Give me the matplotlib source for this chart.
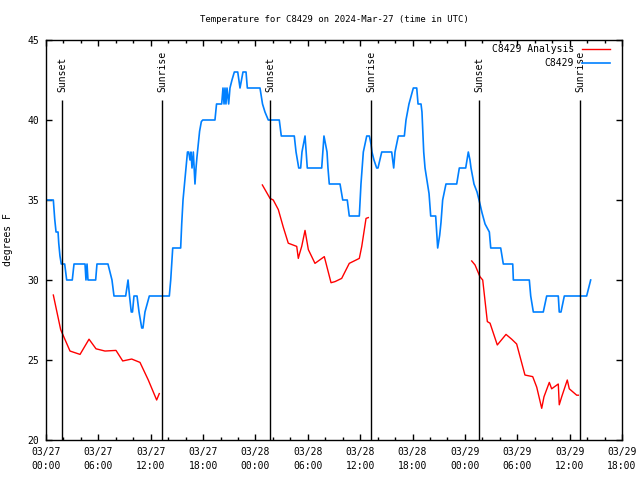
import numpy as np
import matplotlib
matplotlib.use("Agg")
import matplotlib.pyplot as plt

# hours since 03/27 00:00 UTC, temperature in degrees F
obs_hours = [0.11, 0.84, 1.00, 1.15, 1.38, 1.46, 1.60, 1.75, 2.14, 2.37, 3.01, 3.21, 4.47, 4.58, 4.70, 4.81,
             5.69, 5.84, 7.10, 7.33, 7.56, 7.79, 9.13, 9.40, 9.57, 9.77, 9.91, 10.08, 10.43, 10.66, 10.97,
             11.11, 11.34, 11.84, 14.13, 14.29, 14.52, 15.43, 15.55, 15.70, 15.87, 16.04, 16.21, 16.35,
             16.50, 16.61, 16.73, 16.88, 17.07, 17.19, 17.30, 17.47, 17.60, 17.80, 17.96, 19.36, 19.54,
             20.13, 20.28, 20.40, 20.51, 20.62, 20.74, 20.93, 21.08, 21.31, 21.58, 21.97, 22.23, 22.57,
             22.92, 23.07, 24.52, 24.81, 25.09, 25.47, 26.73, 26.96, 28.45, 28.65, 28.96, 29.18, 29.33,
             29.68, 29.94, 31.59, 31.85, 32.20, 32.31, 32.46, 33.69, 34.00, 34.52, 34.75, 35.90, 36.09,
             36.36, 36.75, 37.05, 37.24, 37.35, 37.58, 37.89, 38.04, 38.47, 39.61, 39.84, 39.99, 40.37,
             41.06, 41.25, 41.59, 42.09, 42.48, 42.63, 42.97, 43.08, 43.18, 43.28, 43.43, 43.89, 44.08,
             44.65, 44.88, 45.11, 45.26, 45.45, 45.83, 47.06, 47.36, 48.09, 48.39, 48.58, 48.70, 49.04,
             49.39, 49.62, 49.96, 50.31, 50.80, 50.96, 52.10, 52.40, 53.48, 53.55, 55.38, 55.54, 55.84,
             56.98, 57.37, 58.70, 58.81, 59.01, 59.39, 61.95, 62.41]
obs_temp = [35, 35, 33.8, 33, 33, 32.3, 31.5, 31, 31, 30, 30, 31, 31, 30, 31, 30,
            30, 31, 31, 30.5, 30, 29, 29, 30, 29, 28, 28, 29, 29, 28, 27,
            27, 28, 29, 29, 30, 32, 32, 33.5, 35, 36, 37, 38, 38,
            37.5, 38, 37, 38, 36, 37, 37.7, 38.6, 39.3, 39.9, 40, 40, 41,
            41, 42, 41, 42, 41, 42, 41, 42, 42.5, 43, 43, 42, 43,
            43, 42, 42, 41, 40.5, 40, 40, 39, 39, 38, 37, 37, 38,
            39, 37, 37, 39, 38, 37, 36, 36, 35, 35, 34, 34, 36,
            38, 39, 39, 38.5, 38, 37.5, 37, 37, 38, 38, 37, 38, 39,
            39, 40, 41, 42, 42, 41, 41, 40.5, 39.2, 38, 37, 35.4, 34,
            34, 32, 32.8, 33.6, 35, 36, 36, 37, 37, 38, 37.5, 37, 36,
            35.5, 35, 34.2, 33.5, 33, 32, 32, 31, 31, 30, 30, 29, 28,
            28, 29, 29, 28, 28, 29, 29, 30]

# analysis runs, three separate pieces
ana1_hours = [0.84, 1.68, 2.75, 3.90, 4.93, 5.73, 6.76, 8.02, 8.79, 9.82, 10.77, 11.72, 12.68, 12.98]
ana1_temp = [29.06, 26.9, 25.56, 25.35, 26.3, 25.7, 25.56, 25.6, 24.94, 25.06, 24.85, 23.75, 22.5, 22.9]
ana2_hours = [24.79, 25.67, 26.04, 26.62, 27.19, 27.76, 28.73, 28.91, 29.03, 29.30, 29.68, 30.06, 30.82,
              31.89, 32.66, 33.12, 33.88, 34.75, 35.90, 36.18, 36.67, 36.93]
ana2_temp = [35.94, 35.1, 35.0, 34.4, 33.3, 32.3, 32.1, 31.35, 31.6, 32.1, 33.1, 31.9, 31.04,
             31.46, 29.83, 29.9, 30.1, 31.04, 31.35, 32.1, 33.85, 33.9]
ana3_hours = [48.78, 49.16, 49.73, 50.04, 50.57, 50.88, 51.71, 52.71, 53.36, 53.93, 54.88, 55.77, 56.23,
              56.80, 57.06, 57.67, 57.94, 58.70, 58.81, 59.09, 59.73, 59.96, 60.81, 61.0]
ana3_temp = [31.19, 30.94, 30.2, 30.0, 27.4, 27.3, 25.94, 26.6, 26.3, 26.0, 24.06, 23.96, 23.3,
             21.98, 22.7, 23.6, 23.2, 23.5, 22.2, 22.7, 23.75, 23.2, 22.8, 22.8]

sun_hours = [1.83, 13.29, 25.67, 37.24, 49.62, 61.19]
sun_labels = ["Sunset", "Sunrise", "Sunset", "Sunrise", "Sunset", "Sunrise"]

tick_hours = list(range(0, 67, 6))
tick_labels = ["03/27\n00:00", "03/27\n06:00", "03/27\n12:00", "03/27\n18:00",
               "03/28\n00:00", "03/28\n06:00", "03/28\n12:00", "03/28\n18:00",
               "03/29\n00:00", "03/29\n06:00", "03/29\n12:00", "03/29\n18:00"]

plt.rcParams['font.family'] = ['DejaVu Sans Mono']
plt.rcParams['font.size'] = 7

fig = plt.figure(figsize=(6.4, 4.8), dpi=100)
ax = fig.add_axes([46/640, 40/480, 576/640, 400/480])

red = "#ff0000"
blue = "#0080ff"

ax.plot(ana1_hours, ana1_temp, color=red, lw=1.0, label="C8429 Analysis")
ax.plot(ana2_hours, ana2_temp, color=red, lw=1.0)
ax.plot(ana3_hours, ana3_temp, color=red, lw=1.0)
ax.plot(obs_hours, obs_temp, color=blue, lw=1.2, label="C8429")

# sunrise / sunset markers
ax.vlines(sun_hours, 20, 41.25, color="black", lw=1.0)
for h, lab in zip(sun_hours, sun_labels):
    ax.text(h, 41.75, lab, rotation=90, ha="center", va="bottom", fontsize=7)

ax.set_xlim(0, 66)
ax.set_ylim(20, 45)
ax.set_xticks(tick_hours)
ax.set_xticklabels(tick_labels, linespacing=1.45)
ax.set_xticks(np.arange(0, 67, 2), minor=True)
ax.set_yticks([20, 25, 30, 35, 40, 45])
ax.tick_params(which="both", direction="in", top=True, right=True, width=1.0)
ax.tick_params(which="major", length=4.5)
ax.tick_params(axis="x", which="major", pad=5)
ax.tick_params(axis="y", which="major", pad=5)
ax.tick_params(which="minor", length=2.5)
for s in ax.spines.values():
    s.set_linewidth(1.0)

ax.set_ylabel("degrees F", labelpad=10)
fig.text(334/640, 1 - 20/480, "Temperature for C8429 on 2024-Mar-27 (time in UTC)",
         ha="center", va="center", fontsize=6.5)

ax.legend(loc="upper right", bbox_to_anchor=(0.979, 0.99), frameon=False, markerfirst=False,
          handlelength=2.9, handletextpad=0.8, borderpad=0, borderaxespad=0, labelspacing=0.45)

fig.savefig("out.png", dpi=100)
